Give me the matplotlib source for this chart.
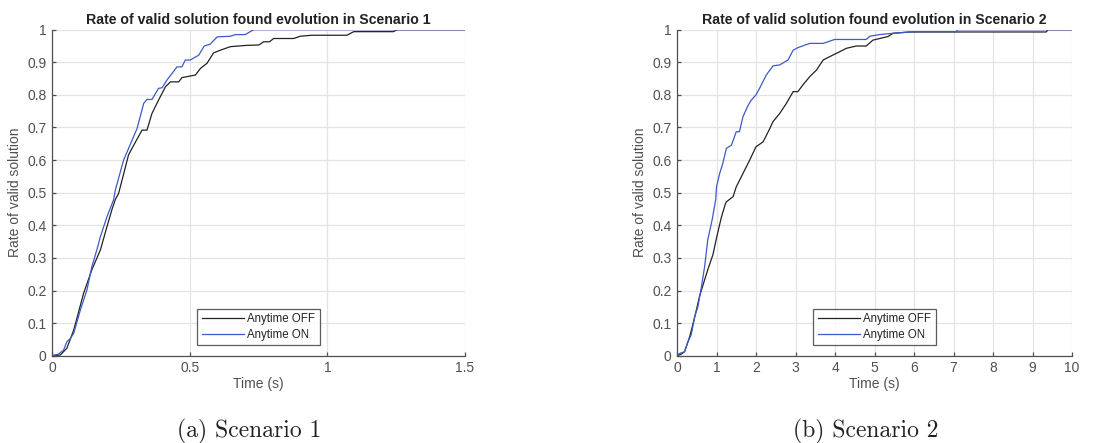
import matplotlib
matplotlib.use("Agg")
import matplotlib.pyplot as plt

# Scenario 1: time (s) and rate of valid solution
s1_off_t = [0, 0.03, 0.054, 0.079, 0.115, 0.145, 0.176, 0.2, 0.218, 0.23, 0.242,
            0.278, 0.297, 0.327, 0.345, 0.363, 0.387, 0.412, 0.430, 0.460, 0.472,
            0.521, 0.539, 0.563, 0.587, 0.611, 0.648, 0.708, 0.751, 0.769, 0.790,
            0.805, 0.878, 0.902, 0.944, 1.071, 1.096, 1.24, 1.253, 1.5]
s1_off_r = [0, 0.002, 0.023, 0.079, 0.192, 0.264, 0.325, 0.397, 0.449, 0.479, 0.498,
            0.616, 0.646, 0.692, 0.692, 0.743, 0.784, 0.825, 0.840, 0.840, 0.853,
            0.861, 0.881, 0.897, 0.929, 0.937, 0.948, 0.952, 0.953, 0.963, 0.963,
            0.973, 0.973, 0.980, 0.983, 0.983, 0.994, 0.994, 1.0, 1.0]
s1_on_t = [0, 0.024, 0.042, 0.054, 0.067, 0.079, 0.103, 0.127, 0.145, 0.163, 0.176,
           0.2, 0.224, 0.230, 0.260, 0.309, 0.333, 0.345, 0.363, 0.387, 0.400,
           0.418, 0.436, 0.454, 0.472, 0.484, 0.502, 0.533, 0.553, 0.575, 0.6,
           0.648, 0.666, 0.702, 0.732, 1.5]
s1_on_r = [0, 0.005, 0.017, 0.043, 0.053, 0.069, 0.14, 0.202, 0.274, 0.325, 0.366,
           0.427, 0.479, 0.508, 0.6, 0.697, 0.774, 0.786, 0.786, 0.82, 0.822,
           0.846, 0.866, 0.886, 0.886, 0.907, 0.907, 0.922, 0.95, 0.956, 0.978,
           0.98, 0.985, 0.985, 1.0, 1.0]

# Scenario 2: time (s) and rate of valid solution
s2_off_t = [0, 0.11, 0.19, 0.32, 0.41, 0.49, 0.57, 0.7, 0.78, 0.91, 1.0, 1.12,
            1.22, 1.25, 1.42, 1.5, 1.67, 1.84, 2.0, 2.18, 2.35, 2.43, 2.6, 2.77,
            2.94, 3.06, 3.19, 3.36, 3.53, 3.7, 3.86, 4.03, 4.29, 4.54, 4.79, 4.96,
            5.34, 5.47, 5.89, 9.35, 9.39, 10]
s2_off_r = [0, 0.005, 0.012, 0.058, 0.1, 0.14, 0.182, 0.233, 0.264, 0.31, 0.361,
            0.423, 0.464, 0.472, 0.488, 0.518, 0.559, 0.6, 0.641, 0.656, 0.697,
            0.718, 0.743, 0.774, 0.81, 0.81, 0.831, 0.856, 0.876, 0.907, 0.917,
            0.927, 0.943, 0.95, 0.95, 0.968, 0.979, 0.989, 0.993, 0.993, 1.0, 1.0]
s2_on_t = [0, 0.07, 0.19, 0.28, 0.36, 0.45, 0.53, 0.62, 0.7, 0.78, 0.89, 0.98,
           1.0, 1.08, 1.16, 1.25, 1.38, 1.5, 1.58, 1.67, 1.8, 1.88, 2.0, 2.09,
           2.26, 2.43, 2.6, 2.81, 2.94, 3.06, 3.36, 3.7, 3.99, 4.79, 4.88, 5.13,
           5.47, 6.02, 7.07, 7.11, 10]
s2_on_r = [0, 0.007, 0.012, 0.043, 0.064, 0.12, 0.151, 0.212, 0.274, 0.356, 0.417,
           0.479, 0.518, 0.559, 0.59, 0.636, 0.646, 0.687, 0.687, 0.733, 0.768,
           0.784, 0.8, 0.82, 0.861, 0.889, 0.892, 0.907, 0.937, 0.945, 0.958,
           0.958, 0.97, 0.97, 0.98, 0.985, 0.989, 0.994, 0.994, 1.0, 1.0]

titles = ["Rate of valid solution found evolution in Scenario 1",
          "Rate of valid solution found evolution in Scenario 2"]
captions = ["(a) Scenario 1", "(b) Scenario 2"]
series_labels = ["Anytime OFF", "Anytime ON"]
y_ticks = [0, 0.1, 0.2, 0.3, 0.4, 0.5, 0.6, 0.7, 0.8, 0.9, 1]
y_tick_labels = ["0", "0.1", "0.2", "0.3", "0.4", "0.5", "0.6", "0.7", "0.8", "0.9", "1"]
x_ticks_1 = [0, 0.5, 1, 1.5]
x_tick_labels_1 = ["0", "0.5", "1", "1.5"]
x_ticks_2 = list(range(0, 11))
x_tick_labels_2 = [str(v) for v in x_ticks_2]

plt.rcParams["font.family"] = ["Liberation Sans", "DejaVu Sans"]

W, H = 1106, 443
fig = plt.figure(figsize=(W / 100, H / 100), dpi=100)

axis_color = "#505050"
off_color = "#222222"
on_color = "#3c5ac8"

boxes = [(52, 465), (677, 1072)]
y_top, y_bot = 29.7, 355.7
data = [
    (s1_off_t, s1_off_r, s1_on_t, s1_on_r, x_ticks_1, x_tick_labels_1, 1.5),
    (s2_off_t, s2_off_r, s2_on_t, s2_on_r, x_ticks_2, x_tick_labels_2, 10),
]
caption_x = [249, 866]

for i, ((x0, x1), d) in enumerate(zip(boxes, data)):
    off_t, off_r, on_t, on_r, xt, xtl, xmax = d
    ax = fig.add_axes([x0 / W, (H - y_bot) / H, (x1 - x0) / W, (y_bot - y_top) / H])
    ax.plot(off_t, off_r, color=off_color, lw=0.9, label=series_labels[0])
    ax.plot(on_t, on_r, color=on_color, lw=0.9, label=series_labels[1])
    ax.set_xlim(0, xmax)
    ax.set_ylim(0, 1)
    ax.set_xticks(xt)
    ax.set_xticklabels(xtl)
    ax.set_yticks(y_ticks)
    ax.set_yticklabels(y_tick_labels)
    ax.grid(True, color="#e3e3e3", lw=0.9)
    ax.set_axisbelow(True)
    for side in ("top", "right"):
        ax.spines[side].set_visible(False)
    for side in ("left", "bottom"):
        ax.spines[side].set_color(axis_color)
        ax.spines[side].set_linewidth(0.9)
    ax.tick_params(direction="in", length=3, width=0.9, colors=axis_color,
                   labelsize=10, pad=4)
    ax.set_title(titles[i], fontsize=10.2, fontweight="bold", color="#222222", pad=4)
    ax.set_xlabel("Time (s)", fontsize=10, color=axis_color, labelpad=1)
    ax.set_ylabel("Rate of valid solution", fontsize=10, color=axis_color, labelpad=4)
    leg = ax.legend(loc="lower center", fontsize=8.3, frameon=True, fancybox=False,
                    borderaxespad=0.9, handlelength=3.6, handletextpad=0.3,
                    borderpad=0.4, labelspacing=0.3)
    leg.get_frame().set_edgecolor("#333333")
    leg.get_frame().set_linewidth(0.9)
    for t in leg.get_texts():
        t.set_color("#222222")
    fig.text(caption_x[i] / W, (H - 431) / H, captions[i], fontsize=17,
             family="cmr10", ha="center", va="center", color="#222222")

fig.savefig("out.png", dpi=100)
